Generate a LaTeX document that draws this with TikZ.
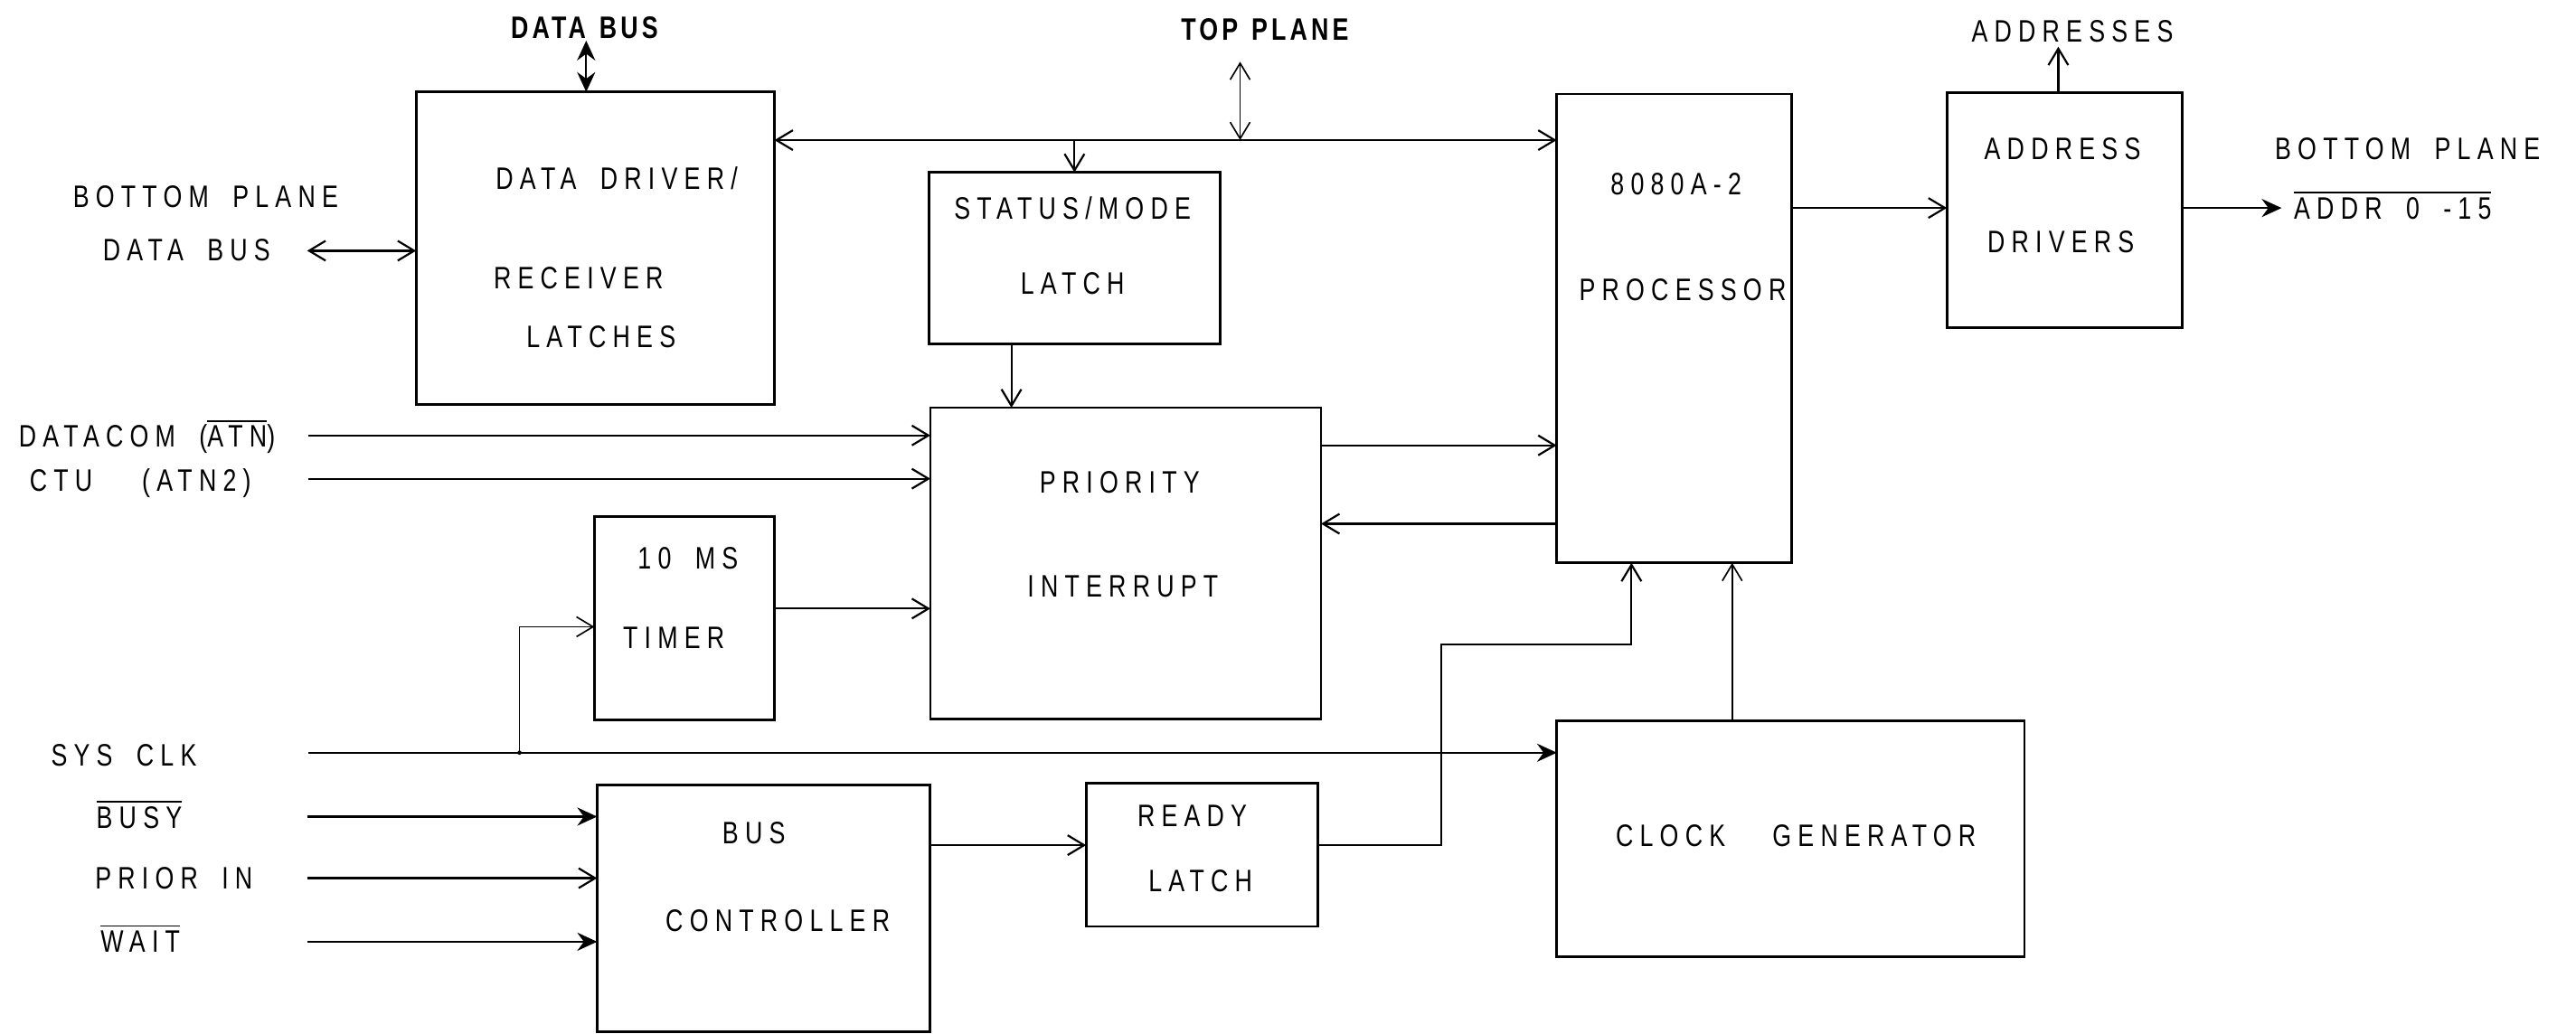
\documentclass[tikz,border=0pt]{standalone}
\usepackage{fontspec}
\setmainfont{Liberation Sans}[FakeStretch=0.78,LetterSpace=21,WordSpace=1.8,BoldFeatures={LetterSpace=12,WordSpace=1.3}]
\usetikzlibrary{arrows.meta}
\newcommand\ovl[1]{\begingroup\setbox0\hbox{#1}\rlap{\rule[\dimexpr\ht0+1.3pt\relax]{\wd0}{0.5pt}}\box0\endgroup}
\begin{document}
\begin{tikzpicture}[x=0.5pt,y=-0.5pt,
  box/.style={draw, line width=0.75pt, inner sep=0pt, outer sep=0pt},
  txt/.style={inner sep=0pt, anchor=base, font=\fontsize{9.4pt}{10pt}\selectfont},
  btxt/.style={inner sep=0pt, anchor=base, font=\fontsize{9.4pt}{10pt}\selectfont\bfseries},
  wire/.style={line width=0.6pt},
  thinw/.style={line width=0.45pt},
  ar/.style={-{Straight Barb[length=5pt,width=6pt]}},
  arr/.style={{Straight Barb[length=5pt,width=6pt]}-{Straight Barb[length=5pt,width=6pt]}},
  arf/.style={-{Stealth[length=6pt,width=5.5pt,inset=2pt]}},
  arff/.style={{Stealth[length=6pt,width=5.5pt,inset=2pt]}-{Stealth[length=6pt,width=5.5pt,inset=2pt]}}
]
\useasboundingbox[fill=white] (0,0) rectangle (1560,626.4);

% boxes
\node[box, minimum width=108.5pt, minimum height=94.65pt] (dd) at (360.5,150.35) {};
\node[box, minimum width=88.25pt, minimum height=52.05pt] (sm) at (650.75,156.45) {};
\node[box, minimum width=118.3pt, minimum height=94.2pt] (pi) at (681.7,341.2) {};
\node[box, minimum width=54.5pt, minimum height=61.65pt] (tmr) at (414.5,374.65) {};
\node[box, minimum width=71.15pt, minimum height=142pt] (cpu) at (1013.85,199) {};
\node[box, minimum width=71.25pt, minimum height=71.2pt] (ad) at (1250.25,127.4) {};
\node[box, minimum width=141.6pt, minimum height=71.45pt] (cg) at (1084.4,508.15) {};
\node[box, minimum width=70.15pt, minimum height=43.35pt] (rl) at (727.85,517.95) {};
\node[box, minimum width=100.85pt, minimum height=74.85pt] (bc) at (462.45,550.35) {};

% box texts
\node[txt] (dd1) at (373.5,114.6) {DATA DRIVER/};
\node[txt] (dd2) at (350.3,175) {RECEIVER};
\node[txt] (dd3) at (364,210.5) {LATCHES};
\node[txt] (sm1) at (649.5,133) {STATUS/MODE};
\node[txt] (sm2) at (649.5,178) {LATCH};
\node[txt] (pi1) at (678,298.5) {PRIORITY};
\node[txt] (pi2) at (680,361.5) {INTERRUPT};
\node[txt] (tm1) at (416.6,344.6) {10 MS};
\node[txt] (tm2) at (408,392.7) {TIMER};
\node[txt] (cp1) at (1015,118) {8080A-2};
\node[txt] (cp2) at (1019,182) {PROCESSOR};
\node[txt] (ad1) at (1249,96.8) {ADDRESS};
\node[txt] (ad2) at (1248,152.9) {DRIVERS};
\node[txt] (cg1) at (1011.7,513) {CLOCK};
\node[txt] (cg2) at (1135,513) {GENERATOR};
\node[txt] (rl1) at (722,500.5) {READY};
\node[txt] (rl2) at (727,540) {LATCH};
\node[txt] (bc1) at (456.5,511) {BUS};
\node[txt] (bc2) at (471,564) {CONTROLLER};

% outside labels
\node[btxt] (ldb) at (354,23.4) {DATA BUS};
\node[btxt] (ltp) at (766,24.6) {TOP PLANE};
\node[txt] (ladr) at (1255,25.2) {ADDRESSES};
\node[txt] (lbp) at (124.5,125.6) {BOTTOM PLANE};
\node[txt] (ldb2) at (113,158) {DATA BUS};
\node[txt] (lbp2) at (1458,96.8) {BOTTOM PLANE};
\node[txt] (laddr) at (1449,133) {\ovl{ADDR 0 -15}};
\node[txt] (ldc) at (89,271) {DATACOM (\ovl{ATN})};
\node[txt] (lctu) at (85,297.4) {CTU\hspace{1.6em}(ATN2)};
\node[txt] (lsys) at (75,464) {SYS CLK};
\node[txt] (lbusy) at (84.3,502) {\ovl{BUSY}};
\node[txt] (lprior) at (105.3,538.5) {PRIOR IN};
\node[txt] (lwait) at (85,577) {\ovl{WAIT}};

% free ends
\coordinate (dbtop) at (355,24.6);
\coordinate (tptop) at (751,37.4);
\coordinate (adtop) at (1246.5,28.3);
\coordinate (adright) at (1381.7,126);
\coordinate (bpl) at (186,151.9);
\coordinate (dcl) at (186.5,263.8);
\coordinate (ctul) at (186.5,290);
\coordinate (sysl) at (186.5,456);
\coordinate (busyl) at (186,494.7);
\coordinate (priorl) at (186,532);
\coordinate (waitl) at (186,570.5);
\coordinate (junc) at (314.6,456);
\coordinate (tpj) at (751,84.9);
\coordinate (smj) at (650.7,84.9);

% connectors
\draw[wire,arff] (dbtop) -- (dd.north -| dbtop);
\draw[wire,arr] (bpl) -- (dd.west |- bpl);
\draw[wire,arr] (dd.east |- 0,84.9) -- (cpu.west |- 0,84.9);
\draw[thinw,arr] (tptop) -- (tpj);
\draw[wire,ar] (smj) -- (sm.north -| smj);
\draw[wire,ar] (sm.south -| 612.5,0) -- (pi.north -| 612.5,0);
\draw[wire,ar] (dcl) -- (pi.west |- dcl);
\draw[wire,ar] (ctul) -- (pi.west |- ctul);
\draw[wire,ar] (tmr.east |- 0,368.7) -- (pi.west |- 0,368.7);
\draw[wire,arf] (sysl) -- (cg.west |- sysl);
\draw[thinw,ar] (junc) |- (tmr.west |- 0,379.7);
\fill (junc) circle (1.3);
\draw[wire,ar] (pi.east |- 0,269.8) -- (cpu.west |- 0,269.8);
\draw[wire,ar] (cpu.west |- 0,317.3) -- (pi.east |- 0,317.3);
\draw[wire,ar] (cpu.east |- 0,126) -- (ad.west |- 0,126);
\draw[wire,ar] (ad.north -| adtop) -- (adtop);
\draw[wire,arf] (ad.east |- adright) -- (adright);
\draw[thinw,ar] (cg.north -| 1049,0) -- (cpu.south -| 1049,0);
\draw[wire,ar] (bc.east |- 0,512) -- (rl.west |- 0,512);
\draw[wire,ar] (rl.east |- 0,512) -| (873,390.6) -| (cpu.south -| 988,0);
\draw[wire,arf] (busyl) -- (bc.west |- busyl);
\draw[wire,ar] (priorl) -- (bc.west |- priorl);
\draw[wire,arf] (waitl) -- (bc.west |- waitl);
\end{tikzpicture}
\end{document}
